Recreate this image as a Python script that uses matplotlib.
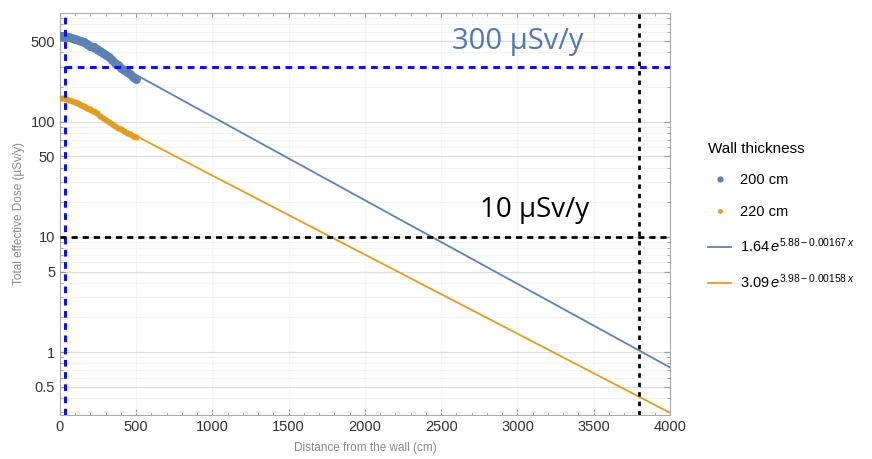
import matplotlib
matplotlib.use('Agg')
import matplotlib.pyplot as plt
from matplotlib.lines import Line2D
from matplotlib.ticker import FixedLocator, NullFormatter, LogLocator
import numpy as np

plt.rcParams['font.family'] = ['Liberation Sans', 'DejaVu Sans']
plt.rcParams['mathtext.fontset'] = 'custom'
plt.rcParams['mathtext.rm'] = 'Liberation Sans'
plt.rcParams['mathtext.it'] = 'Liberation Sans:italic'

# simulated dose points near the wall
dist = [0, 20, 40, 60, 80, 100, 120, 140, 160, 180, 200, 220, 240,
        260, 280, 300, 320, 340, 360, 380, 400, 420, 440, 460, 480, 500]
dose_200 = [555, 552, 548, 542, 535, 525, 514, 501, 488, 473, 458, 443, 427,
            410, 394, 378, 361, 343, 325, 308, 294, 281, 268, 257, 246, 236]
dose_220 = [162, 160, 158, 155, 152, 148, 144, 140, 136, 132, 128, 123, 118,
            113, 108, 104, 100, 96, 92, 89, 86, 83, 80, 78, 75, 73]

# fitted curves a*exp(b - k*x)
fit_a = [1.64, 3.09]
fit_b = [5.88, 3.98]
fit_k = [0.00167, 0.00158]
fit_x = np.array([0, 4000])

limit_300 = 300
limit_10 = 10
x_wall = 30
x_10 = 3800

blue = '#5E81B5'
orange = '#E19C24'

fig = plt.figure(figsize=(8.72, 4.59), dpi=100)
ax = fig.add_axes([0.0688, 0.096, 0.6995, 0.876])

ax.set_yscale('log')
ax.set_xlim(0, 4000)
ax.set_ylim(0.285, 880)

# fit lines
for a, b, k, c in zip(fit_a, fit_b, fit_k, [blue, orange]):
    ax.plot(fit_x, a * np.exp(b - k * fit_x), color=c, lw=1.3, zorder=3)

# data points
ax.plot(dist, dose_200, 'o', color=blue, ms=6.5, mec='none', zorder=4)
ax.plot(dist, dose_220, 'o', color=orange, ms=4.5, mec='none', zorder=4)

# limit lines
ax.axvline(x_wall, color='#1010ee', ls=(0, (2.2, 1.8)), lw=2.2, zorder=5)
ax.plot([x_wall, 4000], [limit_300, limit_300], color='#1010ee', ls=(0, (2.2, 1.8)), lw=2.2, zorder=5)
ax.axhline(limit_10, color='black', ls=(0, (2.2, 1.8)), lw=2.0, zorder=5)
ax.axvline(x_10, color='black', ls=(0, (1.6, 1.8)), lw=2.0, zorder=5)

ax.text(3000, 500, '300 µSv/y', fontsize=21, color='#4a78b8', ha='center', va='center',
        family='Open Sans')
ax.text(3110, 17, '10 µSv/y', fontsize=20, color='black', ha='center', va='center',
        family='Open Sans')

# ticks and grid
yt = [0.5, 1, 5, 10, 50, 100, 500]
ax.yaxis.set_major_locator(FixedLocator(yt))
ax.set_yticklabels(['0.5', '1', '5', '10', '50', '100', '500'])
ax.yaxis.set_minor_locator(LogLocator(base=10, subs=np.arange(1, 10)))
ax.yaxis.set_minor_formatter(NullFormatter())
ax.set_xticks(np.arange(0, 4001, 500))
ax.set_xticks(np.arange(0, 4001, 100), minor=True)
ax.tick_params(which='both', direction='in', top=True, right=True, colors='#999999',
               labelcolor='#333333', labelsize=10.5)
ax.tick_params(which='major', length=4)
ax.tick_params(which='minor', length=2)

ax.grid(True, which='major', axis='y', color='#dddddd', lw=0.9)
ax.grid(True, which='minor', axis='y', color='#f2f2f2', lw=0.8)
ax.grid(True, which='major', axis='x', color='#f4f4f4', lw=0.8)
ax.set_axisbelow(True)
for s in ax.spines.values():
    s.set_color('#aaaaaa')

ax.set_xlabel('Distance from the wall (cm)', color='#888888', fontsize=8.5, labelpad=6)
ax.set_ylabel('Total effective Dose (µSv/y)', color='#888888', fontsize=8.5, labelpad=4)

handles = [
    Line2D([], [], ls='none', marker='o', color=blue, ms=4.5, mec='none'),
    Line2D([], [], ls='none', marker='o', color=orange, ms=3.5, mec='none'),
    Line2D([], [], color=blue, lw=1.3),
    Line2D([], [], color=orange, lw=1.3),
]
labels = ['200 cm', '220 cm',
          r'$1.64\,e^{5.88-0.00167\,x}$', r'$3.09\,e^{3.98-0.00158\,x}$']
leg = fig.legend(handles, labels, title='Wall thickness', loc='upper left',
                 bbox_to_anchor=(0.797, 0.72), frameon=False, fontsize=10.5,
                 title_fontsize=11, handlelength=1.6, labelspacing=1.2,
                 handletextpad=0.6)
leg._legend_box.align = 'left'

fig.savefig('out.png', dpi=100)
